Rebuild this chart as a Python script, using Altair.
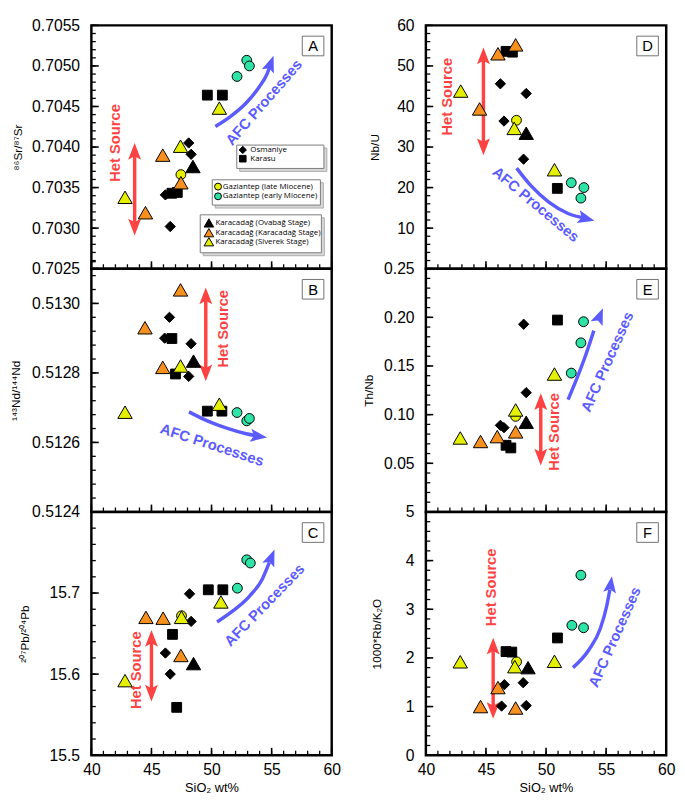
import altair as alt
import pandas as pd

# ---------------- categories ----------------
CODES = ["GZL", "GZE", "KAR", "OSM", "OVA", "KRC", "SIV"]
NAMES = {
    "OSM": "Osmaniye",
    "KAR": "Karasu",
    "GZL": "Gaziantep (late Miocene)",
    "GZE": "Gaziantep (early Miocene)",
    "OVA": "Karacadağ (Ovabağ Stage)",
    "KRC": "Karacadağ (Karacadağ Stage)",
    "SIV": "Karacadağ (Siverek Stage)",
}
SHAPE_OF = {"GZL": "circle", "GZE": "circle", "KAR": "square", "OSM": "diamond",
            "OVA": "triangle-up", "KRC": "triangle-up", "SIV": "triangle-up"}
FILL_OF = {"GZL": "#e4f000", "GZE": "#2ee3a6", "KAR": "#000000", "OSM": "#000000",
           "OVA": "#000000", "KRC": "#f7901e", "SIV": "#e4f000"}
SIZE_OF = {"GZL": 100, "GZE": 100, "KAR": 100, "OSM": 110, "OVA": 215, "KRC": 215, "SIV": 215}
LEG_SIZE_OF = {"GZL": 50, "GZE": 50, "KAR": 45, "OSM": 55, "OVA": 95, "KRC": 95, "SIV": 95}

# ---------------- data ----------------
A_grp = ["GZL", "GZE", "GZE", "GZE", "KAR", "KAR", "KAR", "KAR", "OSM", "OSM", "OSM", "OSM",
         "OVA", "KRC", "KRC", "KRC", "SIV", "SIV", "SIV"]
A_sio2 = [47.45, 52.12, 52.93, 53.15, 46.7, 47.15, 49.65, 50.9, 46.56, 46.16, 48.1, 48.3,
          48.45, 44.5, 45.94, 47.45, 42.8, 47.42, 50.65]
A_sr = [0.70366, 0.70487, 0.70507, 0.70500, 0.70343, 0.70344, 0.70464, 0.70464, 0.70302, 0.70341,
        0.70405, 0.70391, 0.70376, 0.70319, 0.70390, 0.70356, 0.70338, 0.70401, 0.70448]

B_grp = ["GZE", "GZE", "GZE", "KAR", "KAR", "KAR", "KAR", "OSM", "OSM", "OSM", "OSM",
         "OVA", "KRC", "KRC", "KRC", "SIV", "SIV", "SIV"]
B_sio2 = [52.12, 52.93, 53.15, 46.7, 47.0, 49.65, 50.86, 46.5, 46.1, 48.3, 48.1,
          48.5, 47.42, 44.46, 45.94, 42.8, 47.42, 50.65]
B_nd = [0.512686, 0.512662, 0.512669, 0.512899, 0.512797, 0.51269, 0.51269, 0.51296, 0.51290,
        0.512884, 0.51279, 0.512834, 0.513039, 0.51293, 0.512816, 0.512687, 0.51282, 0.51271]

C_grp = ["GZL", "GZE", "GZE", "GZE", "KAR", "KAR", "KAR", "KAR", "OSM", "OSM", "OSM", "OSM",
         "OVA", "KRC", "KRC", "KRC", "SIV", "SIV", "SIV"]
C_sio2 = [47.5, 52.15, 52.93, 53.23, 46.75, 47.1, 49.73, 50.94, 48.17, 48.3, 46.16, 46.56,
          48.5, 44.54, 45.97, 47.45, 42.8, 47.5, 50.78]
C_pb = [15.672, 15.706, 15.741, 15.737, 15.649, 15.559, 15.704, 15.704, 15.699, 15.665, 15.626, 15.600,
        15.613, 15.670, 15.669, 15.623, 15.592, 15.670, 15.689]

D_grp = ["GZL", "GZE", "GZE", "GZE", "KAR", "KAR", "KAR", "OSM", "OSM", "OSM", "OSM",
         "OVA", "KRC", "KRC", "KRC", "SIV", "SIV", "SIV"]
D_sio2 = [47.54, 52.1, 53.15, 52.9, 46.67, 47.2, 50.94, 46.2, 48.35, 46.5, 48.13,
          48.35, 44.47, 46.0, 47.47, 42.9, 47.35, 50.7]
D_nbu = [36.6, 21.2, 20.0, 17.4, 53.6, 53.4, 19.8, 45.6, 43.2, 36.4, 27.0,
         33.4, 39.4, 53.0, 55.2, 43.8, 34.6, 24.4]

E_grp = list(D_grp)
E_sio2 = [47.47, 52.1, 52.9, 53.12, 46.67, 47.07, 50.95, 46.2, 46.5, 48.35, 48.14,
          48.35, 44.55, 45.94, 47.47, 42.86, 47.47, 50.7]
E_thnb = [0.0982, 0.1427, 0.1738, 0.1955, 0.0685, 0.0658, 0.1972, 0.089, 0.0866, 0.1226, 0.1929,
          0.0922, 0.0724, 0.0774, 0.0823, 0.076, 0.1048, 0.1417]

F_grp = list(D_grp)
F_sio2 = [47.55, 52.15, 53.12, 52.9, 46.67, 47.15, 50.95, 46.53, 46.3, 48.1, 48.35,
          48.5, 44.55, 46.0, 47.47, 42.86, 47.4, 50.7]
F_rbk = [1.92, 2.67, 2.62, 3.70, 2.13, 2.12, 2.41, 1.45, 1.01, 1.49, 1.02,
         1.80, 1.00, 1.39, 0.97, 1.92, 1.82, 1.93]

# ---------------- annotations (data coordinates) ----------------
# Het Source: arrow x, top tip, bottom tip, text x, text y
HET = {
    "A": (43.6, 0.70405, 0.70291, 41.99, 0.70405),
    "B": (49.52, 0.513046, 0.512776, 51.0, 0.512927),
    "C": (45.0, 15.6544, 15.5663, 43.74, 15.6048),
    "D": (44.79, 54.56, 28.0, 41.79, 42.4),
    "E": (49.56, 0.1219, 0.0477, 50.71, 0.0823),
    "F": (45.6, 2.413, 0.747, 45.46, 3.45),
}
# AFC Processes: curve x list, curve y list, tip (x, y, angle), text (x, y, angle)
AFC = {
    "A": ([50.32, 51.53, 52.88, 53.95, 54.62, 54.92],
          [0.704253, 0.704372, 0.704543, 0.704738, 0.704901, 0.705028],
          (55.16, 0.705127, 20), (54.35, 0.70455, 311)),
    "B": ([48.12, 49.65, 51.26, 52.88, 54.09],
          [0.512688, 0.512662, 0.512641, 0.512625, 0.512617],
          (54.62, 0.512614, 98), (50.05, 0.512593, 18)),
    "C": ([50.46, 51.80, 53.15, 54.22, 54.81],
          [15.6643, 15.6782, 15.6960, 15.7171, 15.7377],
          (55.24, 15.7536, 22), (54.41, 15.6853, 314)),
    "D": ([47.55, 48.76, 50.23, 51.83, 53.31],
          [24.8, 20.4, 16.4, 13.6, 12.4],
          (54.03, 11.84, 104), (49.16, 15.84, 40)),
    "E": ([51.83, 52.50, 53.31, 53.98],
          [0.11535, 0.13515, 0.16155, 0.18630],
          (54.73, 0.20941, 22), (55.1, 0.1543, 294)),
    "F": ([52.24, 53.57, 54.51, 55.05, 55.31],
          [1.80, 2.167, 2.60, 3.067, 3.40],
          (55.48, 3.68, 8), (55.72, 2.43, 294)),
}

# legend in panel A (data coordinates of panel A)
LEG_BOX_X1 = [52.10, 50.06, 49.06]
LEG_BOX_X2 = [59.35, 59.06, 59.14]
LEG_BOX_Y1 = [0.704024, 0.703596, 0.703164]
LEG_BOX_Y2 = [0.703736, 0.703284, 0.702696]
LEG_CODES = ["OSM", "KAR", "GZL", "GZE", "OVA", "KRC", "SIV"]
LEG_SYM_X = [52.6, 52.6, 50.54, 50.54, 49.78, 49.78, 49.78]
LEG_SYM_Y = [0.703964, 0.703856, 0.703512, 0.703392, 0.703064, 0.702944, 0.702832]
LEG_TXT_X = [53.23, 53.23, 50.94, 50.94, 50.32, 50.32, 50.32]

# ---------------- styling ----------------
W, H = 245, 248
GAP = 19
FONT = "Liberation Sans"
RED = "#ff4343"
BLUE = "#5b5bff"
HEAD = "M0,0L0.85,2.2L0,1.75L-0.85,2.2Z"
HEAD_SIZE = 240
XDOM = [40, 60]
X_MAJOR = [40, 45, 50, 55, 60]


def ticks(lo, hi, step):
    n = int(round((hi - lo) / step))
    return [round(lo + i * step, 7) for i in range(n + 1)]


X_MINOR = ticks(40, 60, 1)


def panel(letter, sio2, vals, grp, ydom, ymajor, yminor, yfmt, ytitle, tpad, bottom, legend=False):
    xs = alt.Scale(domain=XDOM, nice=False, zero=False)
    ys = alt.Scale(domain=ydom, nice=False, zero=False)

    y_axis = alt.Axis(orient="left", values=ymajor, format=yfmt, ticks=False, domain=False, grid=False,
                      labelFontSize=16, labelPadding=12, labelColor="black", labelFont=FONT,
                      labelFlush=False, labelOverlap=False, title=ytitle, titleFont=FONT,
                      titleFontSize=12, titleFontWeight="normal", titleColor="black",
                      titlePadding=tpad, minExtent=0)
    if bottom:
        x_axis = alt.Axis(orient="bottom", values=X_MAJOR, format="d", ticks=False, domain=False,
                          grid=False, labelFontSize=16, labelPadding=7, labelColor="black", labelFont=FONT,
                          labelFlush=False, labelOverlap=False, title="SiO₂ wt%", titleFont=FONT,
                          titleFontSize=13, titleFontWeight="normal", titleColor="black", titlePadding=4)
    else:
        x_axis = None

    # every layer carries the same axis definition so the shared axes merge cleanly
    def X(field="x:Q"):
        return alt.X(field, scale=xs, axis=x_axis)

    def Y(field="y:Q"):
        return alt.Y(field, scale=ys, axis=y_axis)

    # inward tick marks on the left and bottom edges, placed by the scales
    def yticks(vals_, length, width):
        return alt.Chart(pd.DataFrame({"v": vals_})).mark_rule(color="black", strokeWidth=width).encode(
            y=Y("v:Q"), x=alt.value(0), x2=alt.value(length))

    def xticks(vals_, length, width):
        return alt.Chart(pd.DataFrame({"v": vals_})).mark_rule(color="black", strokeWidth=width).encode(
            x=X("v:Q"), y=alt.value(H), y2=alt.value(H - length))

    tick_layers = [yticks(yminor, 4.5, 1.3), yticks(ymajor, 7.5, 1.6),
                   xticks(X_MINOR, 4.5, 1.3), xticks(X_MAJOR, 7.5, 1.6)]

    pts = pd.DataFrame({"x": sio2, "y": vals, "g": grp})
    pts["shape"] = pts["g"].map(SHAPE_OF)
    pts["fill"] = pts["g"].map(FILL_OF)
    pts["size"] = pts["g"].map(SIZE_OF)

    points = alt.Chart(pts).mark_point(filled=True, stroke="black", strokeWidth=1, opacity=1,
                                       fillOpacity=1).encode(
        x=X(), y=Y(),
        shape=alt.Shape("shape:N", scale=None),
        fill=alt.Fill("fill:N", scale=None),
        size=alt.Size("size:Q", scale=None),
    )

    # Het Source double arrow
    hx, htop, hbot, tx, ty = HET[letter]
    d = (htop - hbot) * 0.09
    shaft = alt.Chart(pd.DataFrame({"x": [hx], "y": [htop - d], "y2": [hbot + d]})).mark_rule(
        color=RED, strokeWidth=3.5).encode(x=X(), y=Y(), y2="y2:Q")
    heads = alt.Chart(pd.DataFrame({"x": [hx, hx], "y": [htop, hbot], "a": [0, 180]})).mark_point(
        shape=HEAD, filled=True, color=RED, size=HEAD_SIZE, opacity=1, strokeWidth=0).encode(
        x=X(), y=Y(), angle=alt.Angle("a:Q", scale=None))
    htext = alt.Chart(pd.DataFrame({"x": [tx], "y": [ty], "t": ["Het Source"]})).mark_text(
        angle=270, fontSize=15, fontWeight="bold", color=RED, font=FONT, align="center",
        baseline="middle").encode(x=X(), y=Y(), text="t:N")

    # AFC Processes curved arrow
    cx, cy, tip, txt = AFC[letter]
    line = alt.Chart(pd.DataFrame({"x": cx, "y": cy, "i": list(range(len(cx)))})).mark_line(
        color=BLUE, strokeWidth=3.5, interpolate="monotone").encode(x=X(), y=Y(), order="i:Q")
    ahead = alt.Chart(pd.DataFrame({"x": [tip[0]], "y": [tip[1]]})).mark_point(
        shape=HEAD, filled=True, color=BLUE, size=HEAD_SIZE, opacity=1, strokeWidth=0,
        angle=tip[2]).encode(x=X(), y=Y())
    atext = alt.Chart(pd.DataFrame({"x": [txt[0]], "y": [txt[1]], "t": ["AFC Processes"]})).mark_text(
        angle=txt[2], fontSize=15, fontWeight="bold", color=BLUE, font=FONT, align="center",
        baseline="middle").encode(x=X(), y=Y(), text="t:N")

    # panel letter
    lab = pd.DataFrame({"t": [letter]})
    lbox = alt.Chart(lab).mark_rect(fill="white", stroke="#707070", strokeWidth=1).encode(
        x=alt.value(W - 30), x2=alt.value(W - 8), y=alt.value(11), y2=alt.value(31))
    ltxt = alt.Chart(lab).mark_text(fontSize=15, font=FONT, color="black", align="center",
                                    baseline="middle").encode(x=alt.value(W - 19), y=alt.value(21.5), text="t:N")

    layers = [shaft, heads, htext, line, ahead, atext, points, lbox, ltxt]

    if legend:
        dx = 3 * (XDOM[1] - XDOM[0]) / W
        dy = 3 * (ydom[1] - ydom[0]) / H
        boxes = pd.DataFrame({"x": LEG_BOX_X1, "x2": LEG_BOX_X2, "y": LEG_BOX_Y1, "y2": LEG_BOX_Y2})
        shadow = pd.DataFrame({"x": [v + dx for v in LEG_BOX_X1], "x2": [v + dx for v in LEG_BOX_X2],
                               "y": [v - dy for v in LEG_BOX_Y1], "y2": [v - dy for v in LEG_BOX_Y2]})
        sh = alt.Chart(shadow).mark_rect(fill="#d8d8d8", stroke="#ababab", strokeWidth=1).encode(
            x=X(), x2="x2:Q", y=Y(), y2="y2:Q")
        bx = alt.Chart(boxes).mark_rect(fill="white", stroke="#7a7a7a", strokeWidth=1).encode(
            x=X(), x2="x2:Q", y=Y(), y2="y2:Q")
        lp = pd.DataFrame({"x": LEG_SYM_X, "y": LEG_SYM_Y, "g": LEG_CODES})
        lp["shape"] = lp["g"].map(SHAPE_OF)
        lp["fill"] = lp["g"].map(FILL_OF)
        lp["size"] = lp["g"].map(LEG_SIZE_OF)
        lp["name"] = lp["g"].map(NAMES)
        lp["tx"] = LEG_TXT_X
        lsym = alt.Chart(lp).mark_point(filled=True, stroke="black", strokeWidth=1, opacity=1,
                                        fillOpacity=1).encode(
            x=X(), y=Y(), shape=alt.Shape("shape:N", scale=None), fill=alt.Fill("fill:N", scale=None),
            size=alt.Size("size:Q", scale=None))
        ltx = alt.Chart(lp).mark_text(fontSize=8, font="Open Sans", color="black", align="left",
                                      baseline="middle").encode(
            x=X("tx:Q"), y=Y(), text="name:N")
        layers += [sh, bx, lsym, ltx]

    layers += tick_layers

    return alt.layer(*layers).properties(width=W, height=H)


pA = panel("A", A_sio2, A_sr, A_grp, [0.7025, 0.7055], ticks(0.7025, 0.7055, 0.0005),
           ticks(0.7025, 0.7055, 0.0001), ".4f", "⁸⁶Sr/⁸⁷Sr", 7, False, legend=True)
pB = panel("B", B_sio2, B_nd, B_grp, [0.5124, 0.5131], ticks(0.5124, 0.5130, 0.0002),
           ticks(0.5124, 0.5131, 0.00004), ".4f", "¹⁴³Nd/¹⁴⁴Nd", 9, False)
pC = panel("C", C_sio2, C_pb, C_grp, [15.5, 15.8], [15.5, 15.6, 15.7],
           ticks(15.5, 15.8, 0.02), ".1f", "²⁰⁷Pb/²⁰⁴Pb", 18, True)
pD = panel("D", D_sio2, D_nbu, D_grp, [0, 60], [10, 20, 30, 40, 50, 60],
           ticks(0, 60, 2), "d", "Nb/U", 15, False)
pE = panel("E", E_sio2, E_thnb, E_grp, [0, 0.25], [0.05, 0.10, 0.15, 0.20, 0.25],
           ticks(0, 0.25, 0.01), ".2f", "Th/Nb", 8, False)
pF = panel("F", F_sio2, F_rbk, F_grp, [0, 5], [0, 1, 2, 3, 4, 5],
           ticks(0, 5, 0.2), "d", "1000*Rb/K₂O", 22, True)

left = alt.vconcat(pA, pB, pC, spacing=0, bounds="flush")
right = alt.vconcat(pD, pE, pF, spacing=0, bounds="flush")

chart = alt.hconcat(left, right, spacing=GAP).properties(
    padding={"left": 0, "top": 0, "right": 0, "bottom": 0}
).configure(font=FONT).configure_view(stroke="black", strokeWidth=2.5, fill="white")

chart.save("out.html", embed_options={"renderer": "svg", "actions": False})
